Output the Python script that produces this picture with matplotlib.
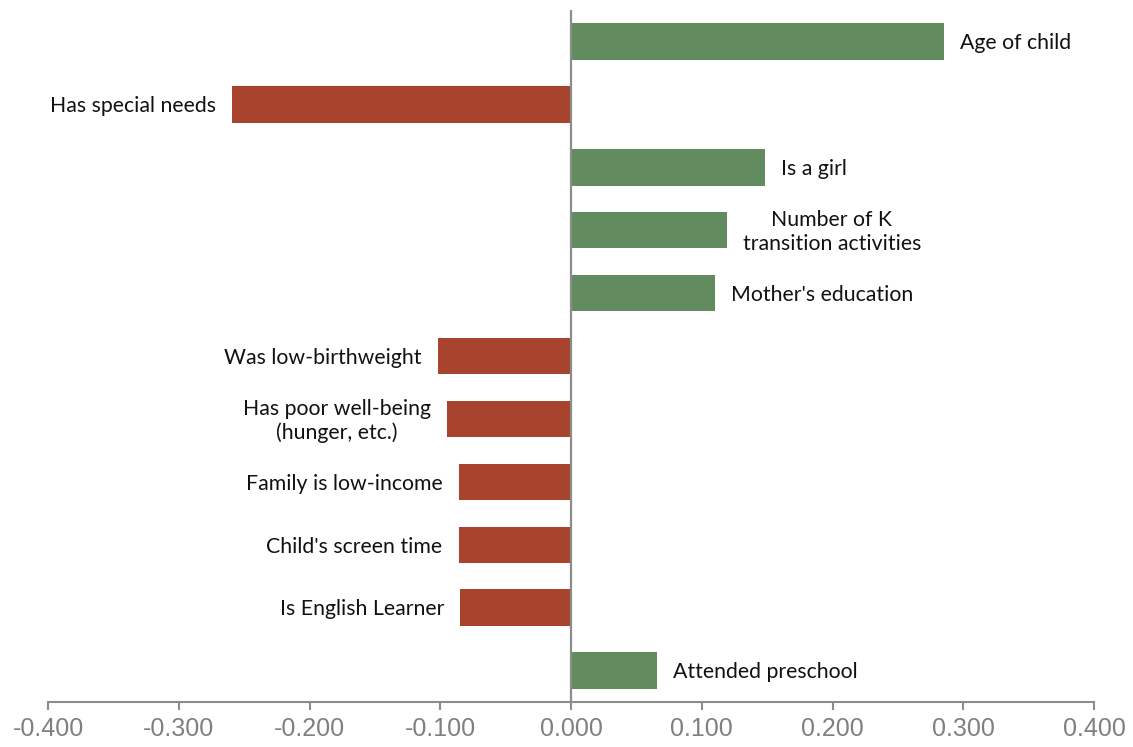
import matplotlib.pyplot as plt

labels = ["Age of child", "Has special needs", "Is a girl",
          "Number of K\ntransition activities", "Mother's education",
          "Was low-birthweight", "Has poor well-being\n(hunger, etc.)",
          "Family is low-income", "Child's screen time",
          "Is English Learner", "Attended preschool"]
values = [0.285, -0.259, 0.148, 0.119, 0.110, -0.102, -0.095,
          -0.086, -0.086, -0.085, 0.066]
ticks = [-0.4, -0.3, -0.2, -0.1, 0.0, 0.1, 0.2, 0.3, 0.4]

green = "#628C5F"
red = "#A8432D"
grey = "#8C8C8C"

fig = plt.figure(figsize=(11.33, 7.47), dpi=100)
ax = fig.add_axes([0.0424, 0.0602, 0.9232, 0.9264])

pos = list(range(len(values)))
colors = [green if v > 0 else red for v in values]
ax.barh(pos, values, height=0.58, color=colors, zorder=2)

# labels sit just past the end of each bar
for y, v, lab in zip(pos, values, labels):
    dx = 11.5 if v > 0 else -11.5
    ax.annotate(lab, (v, y), xytext=(dx, -1.3), textcoords="offset points",
                ha="left" if v > 0 else "right", va="center",
                multialignment="center", fontsize=15.3, family="Lato",
                color="#111111", linespacing=1.22)

ax.axvline(0, color=grey, lw=1.6, zorder=3)
ax.set_xlim(-0.4, 0.4)
ax.set_ylim(10.5, -0.5)
ax.set_xticks(ticks)
ax.set_xticklabels(["%.3f" % t for t in ticks], family="Liberation Sans",
                   fontsize=18, color="#808080")
ax.tick_params(axis="x", length=6, width=1.5, color=grey, pad=5)
ax.set_yticks([])
for s in ["top", "right", "left"]:
    ax.spines[s].set_visible(False)
ax.spines["bottom"].set_color(grey)
ax.spines["bottom"].set_linewidth(1.5)

fig.savefig("out.png", dpi=100)
